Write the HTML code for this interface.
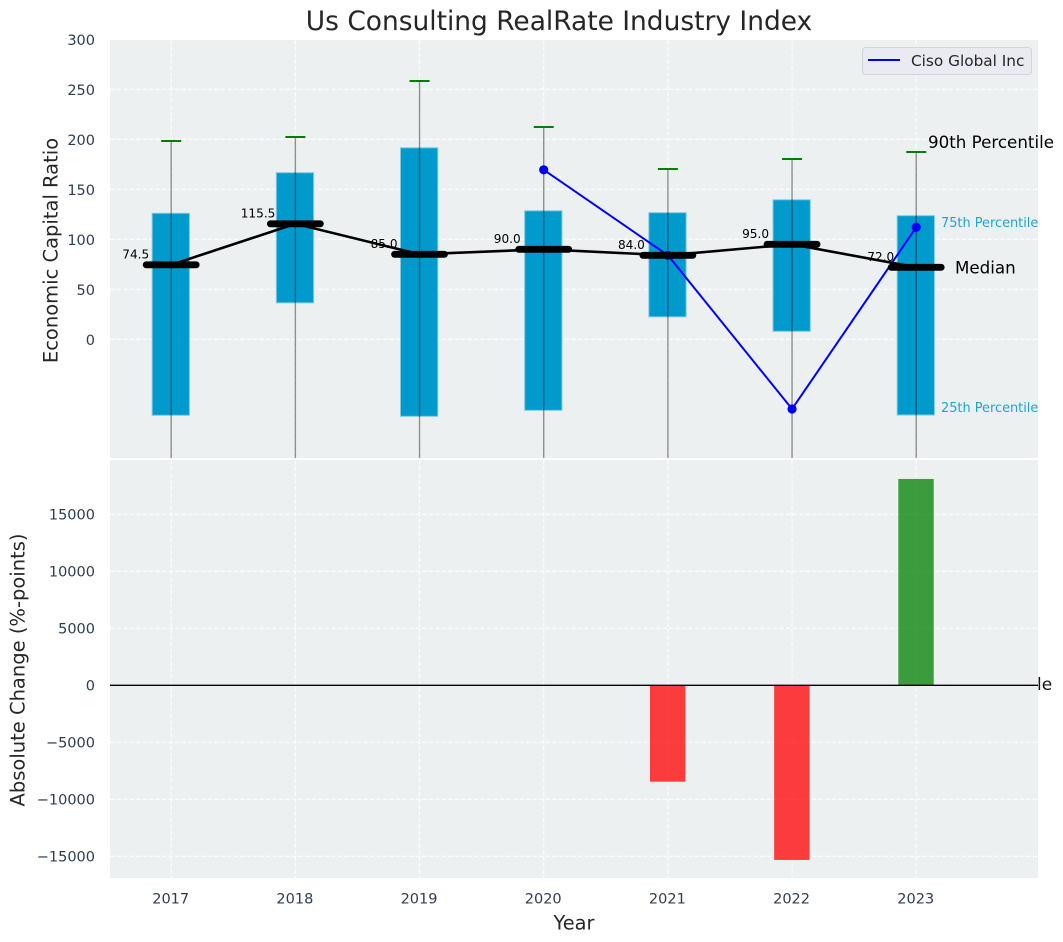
<!DOCTYPE html>
<html lang="en">
<head>
<meta charset="utf-8">
<title>Us Consulting RealRate Industry Index</title>
<style>
html,body{margin:0;padding:0;background:#fff;width:1063px;height:942px;overflow:hidden}
svg{display:block;font-family:"DejaVu Sans","Liberation Sans",sans-serif}
</style>
</head>
<body>
<svg id="chart" xmlns="http://www.w3.org/2000/svg" width="1063" height="942" viewBox="0 0 1063 942"></svg>
<script>
const years = [2017, 2018, 2019, 2020, 2021, 2022, 2023];
const p90 = [198.3, 202.3, 258.3, 212.3, 170.3, 180.3, 187.3];
const p75 = [126, 166.6, 191.5, 128.5, 126.6, 139.5, 123.6];
const medians = [74.5, 115.5, 85.0, 90.0, 84.0, 95.0, 72.0];
const p25 = [-76, 36.5, -77, -71, 22.5, 8, -75.7];
const p10 = [-200, -200, -200, -200, -200, -200, -200];
const companyValues = [null, null, null, 169.5, 84, -69.7, 112];
const absoluteChange = [null, null, null, null, -8456, -15320, 18100];
const topTicks = [0, 50, 100, 150, 200, 250, 300];
const bottomTicks = [-15000, -10000, -5000, 0, 5000, 10000, 15000];

const NS = 'http://www.w3.org/2000/svg';
const svg = document.getElementById('chart');
const plotLeft = 110, plotRight = 1038;
const topY0 = 40, topY1 = 458, botY0 = 460, botY1 = 878;
const xScale = v => 171.2 + (v - 2017) * 124.17;
const yTop = v => 339.3 - v;
const yBot = v => 685.3 - v * 0.0114;
const xSpan = d => d * 124.17;

function add(parent, tag, attrs, name, text) {
  const el = document.createElementNS(NS, tag);
  for (const k in attrs) el.setAttribute(k, attrs[k]);
  
  
  if (text !== undefined) el.textContent = text;
  parent.appendChild(el);
  return el;
}
function label(parent, x, y, str, size, fill, anchor, name, extra) {
  return add(parent, 'text', Object.assign({x: x, y: y, 'font-size': size, fill: fill, 'text-anchor': anchor || 'start', 'dominant-baseline': 'central'}, extra || {}), name, str);
}

const defs = document.createElementNS(NS, 'defs');
defs.innerHTML = '<clipPath id="clipTop"><rect x="110" y="40" width="928" height="418"/></clipPath><clipPath id="clipBot"><rect x="110" y="460" width="928" height="418"/></clipPath>';
svg.appendChild(defs);

// stray label behind the bottom panel
label(svg, 1037, 685, 'le', 17, '#111', 'start', 'clipped-annotation-text');

// panels
add(svg, 'rect', {x: plotLeft, y: topY0, width: plotRight - plotLeft, height: topY1 - topY0, fill: '#ecf0f1'}, 'top-panel-background');
add(svg, 'rect', {x: plotLeft, y: botY0, width: plotRight - plotLeft, height: botY1 - botY0, fill: '#ecf0f1'}, 'bottom-panel-background');

const gridStyle = {stroke: '#fff', 'stroke-width': 1.1, 'stroke-dasharray': '4.5 2', opacity: 0.9};
const gTop = add(svg, 'g', {'clip-path': 'url(#clipTop)'}, 'top-plot-area');
const gBot = add(svg, 'g', {'clip-path': 'url(#clipBot)'}, 'bottom-plot-area');

// gridlines
topTicks.forEach(t => {
  add(gTop, 'line', Object.assign({x1: plotLeft, x2: plotRight, y1: yTop(t), y2: yTop(t)}, gridStyle), 'top-grid-h-' + t);
  label(svg, 95, yTop(t) + 1.5, String(t), 14.5, '#2c3e50', 'end', 'top-y-tick-' + t);
});
bottomTicks.forEach(t => {
  add(gBot, 'line', Object.assign({x1: plotLeft, x2: plotRight, y1: yBot(t), y2: yBot(t)}, gridStyle), 'bottom-grid-h-' + t);
  label(svg, 95, yBot(t) + 1, String(t).replace('-', '\u2212'), 14.5, '#2c3e50', 'end', 'bottom-y-tick-' + t);
});
years.forEach(y => {
  add(gTop, 'line', Object.assign({x1: xScale(y), x2: xScale(y), y1: topY0, y2: topY1}, gridStyle), 'top-grid-v-' + y);
  add(gBot, 'line', Object.assign({x1: xScale(y), x2: xScale(y), y1: botY0, y2: botY1}, gridStyle), 'bottom-grid-v-' + y);
  label(svg, xScale(y) - 0.5, 899.5, String(y), 14.5, '#2c3e50', 'middle', 'x-tick-' + y);
});

// boxes and whiskers
years.forEach((y, i) => {
  const w = xSpan(0.3), cx = xScale(y);
  add(gTop, 'rect', {x: cx - w / 2 - 0.4, y: yTop(p75[i]), width: w, height: yTop(p25[i]) - yTop(p75[i]), fill: '#009acc', stroke: '#7cc9e4', 'stroke-width': 1}, 'box-' + y);
  add(gTop, 'line', {x1: cx, x2: cx, y1: yTop(p90[i]), y2: yTop(p10[i]), stroke: '#000', 'stroke-opacity': 0.42, 'stroke-width': 1.4}, 'whisker-' + y);
  add(gTop, 'line', {x1: cx - 10, x2: cx + 10, y1: yTop(p90[i]), y2: yTop(p90[i]), stroke: '#008000', 'stroke-width': 2}, 'p90-cap-' + y);
});

// company series
const companyPts = years.map((y, i) => companyValues[i] === null ? null : xScale(y) + ',' + yTop(companyValues[i])).filter(Boolean);
add(gTop, 'polyline', {points: companyPts.join(' '), fill: 'none', stroke: '#0000ff', 'stroke-width': 2}, 'company-line');
years.forEach((y, i) => {
  if (companyValues[i] !== null) add(gTop, 'circle', {cx: xScale(y), cy: yTop(companyValues[i]), r: 4.6, fill: '#0000ff'}, 'company-point-' + y);
});

// median value labels (line drawn on top of them)
const labelOffsets = [-22, -20, -22, -23, -23, -23, -22];
years.forEach((y, i) => {
  label(svg, xScale(y) + labelOffsets[i], yTop(medians[i]) - 10.5, medians[i].toFixed(1), 12.1, '#000', 'end', 'median-label-' + y);
});

// median line and bars
add(svg, 'polyline', {points: years.map((y, i) => xScale(y) + ',' + yTop(medians[i])).join(' '), fill: 'none', stroke: '#000', 'stroke-width': 2.6}, 'median-line');
years.forEach((y, i) => {
  add(svg, 'line', {x1: xScale(y) - 25, x2: xScale(y) + 25, y1: yTop(medians[i]), y2: yTop(medians[i]), stroke: '#000', 'stroke-width': 6.8, 'stroke-linecap': 'round'}, 'median-bar-' + y);
});

// annotations for last year
label(svg, 928, 142, '90th Percentile', 16.7, '#000', 'start', 'annotation-90th-percentile');
label(svg, 941, 223.5, '75th Percentile', 12.9, '#1ba6d2', 'start', 'annotation-75th-percentile');
label(svg, 955, 267.5, 'Median', 16.7, '#000', 'start', 'annotation-median');
label(svg, 941, 408.5, '25th Percentile', 12.9, '#1ba6d2', 'start', 'annotation-25th-percentile');

// absolute change bars
years.forEach((y, i) => {
  const v = absoluteChange[i];
  if (v === null) return;
  const w = xSpan(0.285), top = Math.min(yBot(0), yBot(v)), h = Math.abs(yBot(v) - yBot(0));
  add(gBot, 'rect', {x: xScale(y) - w / 2 - 0.2, y: top, width: w, height: h, fill: v < 0 ? '#ff0000' : '#008000', 'fill-opacity': 0.75}, 'change-bar-' + y);
});
add(gBot, 'line', {x1: plotLeft, x2: plotRight, y1: yBot(0), y2: yBot(0), stroke: '#000', 'stroke-width': 1.3}, 'zero-line');

// legend
const legend = add(svg, 'g', {}, 'legend');
add(legend, 'rect', {x: 862.5, y: 47.5, width: 169, height: 27, rx: 3, fill: '#eaeaf2', stroke: '#d2d4d8', 'stroke-width': 1}, 'legend-frame');
add(legend, 'line', {x1: 868, x2: 900, y1: 60, y2: 60, stroke: '#0000ff', 'stroke-width': 2}, 'legend-line');
label(legend, 911, 61, 'Ciso Global Inc', 15.3, '#262626', 'start', 'legend-label');

// titles
label(svg, 559, 21.5, 'Us Consulting RealRate Industry Index', 26.45, '#262626', 'middle', 'chart-title');
label(svg, 574, 923, 'Year', 19.4, '#262626', 'middle', 'x-axis-title');
label(svg, 51, 250.5, 'Economic Capital Ratio', 19.5, '#262626', 'middle', 'top-y-axis-title', {transform: 'rotate(-90 51 250.5)'});
label(svg, 18, 670, 'Absolute Change (%-points)', 19.5, '#262626', 'middle', 'bottom-y-axis-title', {transform: 'rotate(-90 18 670)'});
</script>
</body>
</html>
